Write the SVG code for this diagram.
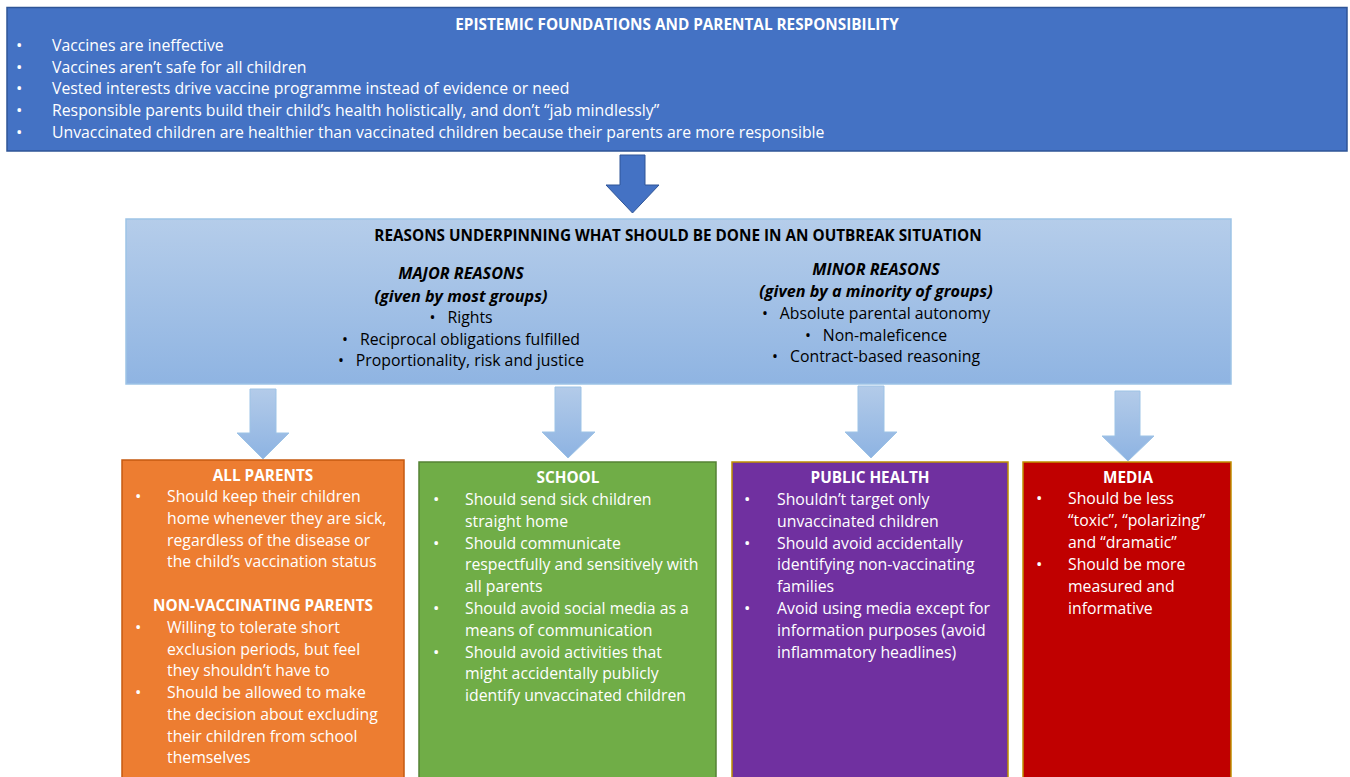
<svg xmlns="http://www.w3.org/2000/svg" width="1350" height="777" viewBox="0 0 1350 777">
  <defs>
    <linearGradient id="lightBlue" x1="0" y1="0" x2="0" y2="1">
      <stop offset="0" stop-color="#B5CDEA"/>
      <stop offset="1" stop-color="#8FB4E2"/>
    </linearGradient>
    <linearGradient id="arrowBlue" x1="0" y1="0" x2="0" y2="1">
      <stop offset="0" stop-color="#B3CBE9"/>
      <stop offset="1" stop-color="#8DB3E2"/>
    </linearGradient>
    <style>
      text { font-family: "Open Sans", "Liberation Sans", Arial, sans-serif; font-size: 15.8px; }
      .w { fill: #FFFFFF; }
      .k { fill: #000000; }
      .b { font-weight: bold; font-size: 15.3px; }
      .bi { font-weight: bold; font-style: italic; font-size: 16.2px; }
      .c { text-anchor: middle; }
      .dot { font-size: 17px; }
      .arrowLight { fill: url(#arrowBlue); stroke: #9DC3E6; stroke-width: 1; }
    </style>
  </defs>

  <rect width="1350" height="777" fill="#FFFFFF"/>

  <!-- connectors -->
  <g id="connectors">
    <path d="M620,155 H645 V185 H659 L632.5,213 L606,185 H620 Z" fill="#4472C4" stroke="#2F5597" stroke-width="1"/>
    <path class="arrowLight" d="M250,389 H276 V433 H289 L263,459 L237,433 H250 Z"/>
    <path class="arrowLight" d="M555,387 H581 V432 H595 L568,458 L542,432 H555 Z"/>
    <path class="arrowLight" d="M858,386 H884 V432 H897 L871,458 L845,432 H858 Z"/>
    <path class="arrowLight" d="M1115,391 H1140 V436 H1154 L1128,461 L1102,436 H1115 Z"/>
  </g>

  <!-- epistemic foundations -->
  <g id="node-epistemic">
    <rect x="7" y="7.5" width="1340" height="143.5" fill="#4472C4" stroke="#2F5597" stroke-width="1.5"/>
    <text class="w b c" x="677" y="30">EPISTEMIC FOUNDATIONS AND PARENTAL RESPONSIBILITY</text>
    <text class="w dot" x="16" y="51">•</text>
    <text class="w" x="52" y="51">Vaccines are ineffective</text>
    <text class="w dot" x="16" y="73">•</text>
    <text class="w" x="52" y="73">Vaccines aren’t safe for all children</text>
    <text class="w dot" x="16" y="94">•</text>
    <text class="w" x="52" y="94">Vested interests drive vaccine programme instead of evidence or need</text>
    <text class="w dot" x="16" y="116">•</text>
    <text class="w" x="52" y="116">Responsible parents build their child’s health holistically, and don’t “jab mindlessly”</text>
    <text class="w dot" x="16" y="138">•</text>
    <text class="w" x="52" y="138">Unvaccinated children are healthier than vaccinated children because their parents are more responsible</text>
  </g>

  <!-- reasons -->
  <g id="node-reasons">
    <rect x="126" y="219" width="1105" height="165" fill="url(#lightBlue)" stroke="#9DC3E6" stroke-width="1.5"/>
    <text class="k b c" x="678" y="241">REASONS UNDERPINNING WHAT SHOULD BE DONE IN AN OUTBREAK SITUATION</text>
    <text class="k bi c" x="461" y="279">MAJOR REASONS</text>
    <text class="k bi c" x="461" y="302">(given by most groups)</text>
    <text class="k c" x="461" y="323">•<tspan dx="12">Rights</tspan></text>
    <text class="k c" x="461" y="345">•<tspan dx="12">Reciprocal obligations fulfilled</tspan></text>
    <text class="k c" x="461" y="366">•<tspan dx="12">Proportionality, risk and justice</tspan></text>
    <text class="k bi c" x="876" y="275">MINOR REASONS</text>
    <text class="k bi c" x="876" y="297">(given by a minority of groups)</text>
    <text class="k c" x="876" y="319">•<tspan dx="12">Absolute parental autonomy</tspan></text>
    <text class="k c" x="876" y="341">•<tspan dx="12">Non-maleficence</tspan></text>
    <text class="k c" x="876" y="362">•<tspan dx="12">Contract-based reasoning</tspan></text>
  </g>

  <!-- all parents / non-vaccinating parents -->
  <g id="node-parents">
    <rect x="122" y="460" width="282" height="330" fill="#ED7D31" stroke="#C55A11" stroke-width="1.5"/>
    <text class="w b c" x="263" y="481">ALL PARENTS</text>
    <text class="w dot" x="135" y="502">•</text>
    <text class="w" x="167" y="502">Should keep their children</text>
    <text class="w" x="167" y="524">home whenever they are sick,</text>
    <text class="w" x="167" y="546">regardless of the disease or</text>
    <text class="w" x="167" y="567">the child’s vaccination status</text>
    <text class="w b c" x="263" y="611">NON-VACCINATING PARENTS</text>
    <text class="w dot" x="135" y="633">•</text>
    <text class="w" x="167" y="633">Willing to tolerate short</text>
    <text class="w" x="167" y="655">exclusion periods, but feel</text>
    <text class="w" x="167" y="676">they shouldn’t have to</text>
    <text class="w dot" x="135" y="698">•</text>
    <text class="w" x="167" y="698">Should be allowed to make</text>
    <text class="w" x="167" y="720">the decision about excluding</text>
    <text class="w" x="167" y="742">their children from school</text>
    <text class="w" x="167" y="763">themselves</text>
  </g>

  <!-- school -->
  <g id="node-school">
    <rect x="419" y="462" width="297" height="328" fill="#70AD47" stroke="#548235" stroke-width="1.5"/>
    <text class="w b c" x="568" y="483">SCHOOL</text>
    <text class="w dot" x="433" y="505">•</text>
    <text class="w" x="465" y="505">Should send sick children</text>
    <text class="w" x="465" y="527">straight home</text>
    <text class="w dot" x="433" y="549">•</text>
    <text class="w" x="465" y="549">Should communicate</text>
    <text class="w" x="465" y="570">respectfully and sensitively with</text>
    <text class="w" x="465" y="592">all parents</text>
    <text class="w dot" x="433" y="614">•</text>
    <text class="w" x="465" y="614">Should avoid social media as a</text>
    <text class="w" x="465" y="636">means of communication</text>
    <text class="w dot" x="433" y="658">•</text>
    <text class="w" x="465" y="658">Should avoid activities that</text>
    <text class="w" x="465" y="679">might accidentally publicly</text>
    <text class="w" x="465" y="701">identify unvaccinated children</text>
  </g>

  <!-- public health -->
  <g id="node-public-health">
    <rect x="732" y="462" width="276" height="328" fill="#7030A0" stroke="#BF9000" stroke-width="1.5"/>
    <text class="w b c" x="870" y="483">PUBLIC HEALTH</text>
    <text class="w dot" x="744" y="505">•</text>
    <text class="w" x="777" y="505">Shouldn’t target only</text>
    <text class="w" x="777" y="527">unvaccinated children</text>
    <text class="w dot" x="744" y="549">•</text>
    <text class="w" x="777" y="549">Should avoid accidentally</text>
    <text class="w" x="777" y="570">identifying non-vaccinating</text>
    <text class="w" x="777" y="592">families</text>
    <text class="w dot" x="744" y="614">•</text>
    <text class="w" x="777" y="614">Avoid using media except for</text>
    <text class="w" x="777" y="636">information purposes (avoid</text>
    <text class="w" x="777" y="658">inflammatory headlines)</text>
  </g>

  <!-- media -->
  <g id="node-media">
    <rect x="1023" y="462" width="208" height="328" fill="#C00000" stroke="#BF9000" stroke-width="1.5"/>
    <text class="w b c" x="1128" y="483">MEDIA</text>
    <text class="w dot" x="1036" y="504">•</text>
    <text class="w" x="1068" y="504">Should be less</text>
    <text class="w" x="1068" y="526">“toxic”, “polarizing”</text>
    <text class="w" x="1068" y="548">and “dramatic”</text>
    <text class="w dot" x="1036" y="570">•</text>
    <text class="w" x="1068" y="570">Should be more</text>
    <text class="w" x="1068" y="592">measured and</text>
    <text class="w" x="1068" y="614">informative</text>
  </g>
</svg>
